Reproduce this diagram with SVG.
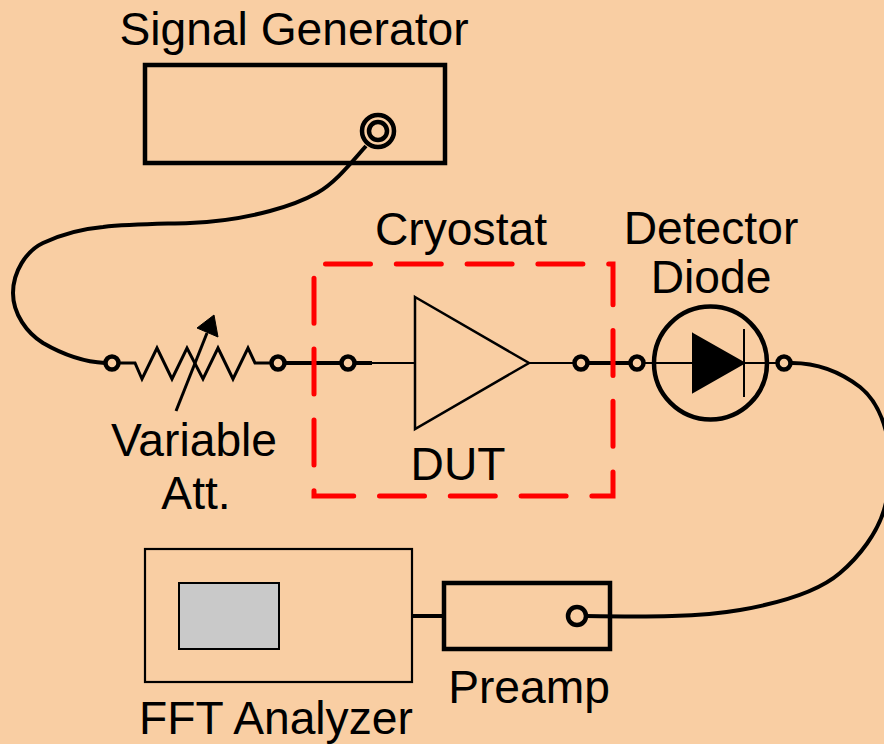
<svg xmlns="http://www.w3.org/2000/svg" width="884" height="744" viewBox="0 0 884 744">
<style>
text{font-family:"Liberation Sans",Arial,sans-serif;font-size:46.200px;fill:#000;text-anchor:middle}
.s{fill:none;stroke:#000;stroke-linejoin:miter}
.t{stroke-width:4.500}
.c{stroke-width:4}
.m{stroke-width:3}
.n{stroke-width:2}
.o{fill:none;stroke:#000;stroke-width:4.500}
</style>
<rect width="884" height="744" fill="#f9cea3"/>
<g id="connectors">
<path class="s c" d="M366 146C350 164 335 183 317 193C299 203 285 207 270 211C240 219 215 222 190 223C160 224 130 224 103 227C80 229 60 235 43 243C26 251 13 272 13 293C13 314 27 333 43 343C62 354 85 362 105 363"/>
<path class="s m" d="M120 363H135L142 379L157 348L172 379L187 348L203 379L218 348L233 379L248 348L255 363H270"/>
<path class="s c" d="M286 363H340M356 363H372"/>
<path class="s n" d="M372 363H415M529 363H573"/>
<path class="s c" d="M589 363H629"/>
<path class="s n" d="M645 363H692M745 363H776"/>
<path class="s c" d="M792 363C820 363 843 374 860 387C875 399 884 420 888 440C892 470 890 490 884 510C877 533 860 556 840 573C818 592 780 603 740 610C700 617 650 617 586 616"/>
<path class="s c" d="M412 616H444"/>
<path class="s m" d="M176 411L207 333"/>
<polygon points="197,328 214,315 218,337" fill="#000" stroke="#000"/>
</g>
<g id="signal-generator">
<rect class="s t" x="145" y="65" width="300" height="98"/>
<circle cx="378" cy="131" r="16" class="o"/>
<circle cx="378" cy="131" r="9" class="o"/>
<text x="294" y="45">Signal Generator</text>
</g>
<g id="variable-att">
<circle cx="112" cy="363" r="6.500" class="o"/>
<circle cx="278" cy="363" r="6.500" class="o"/>
<text x="194" y="456">Variable</text>
<text x="196" y="509">Att.</text>
</g>
<g id="cryostat">
<path d="M325.500 264H613V496H314V264H325.500" fill="none" stroke="#f00" stroke-width="5" stroke-linecap="round" stroke-dasharray="45 25.800"/>
<text x="461" y="245">Cryostat</text>
</g>
<g id="dut">
<circle cx="348" cy="363" r="6.500" class="o"/>
<polygon points="415,297 529,363 415,429" fill="none" stroke="#000" stroke-width="2.500"/>
<circle cx="581" cy="363" r="6.500" class="o"/>
<text x="458" y="480">DUT</text>
</g>
<g id="detector-diode">
<circle cx="637" cy="363" r="6.500" class="o"/>
<circle cx="710.500" cy="363" r="56.500" class="o"/>
<polygon points="693,334 744,363 693,392" fill="#000" stroke="#000" stroke-width="2"/>
<path class="s n" d="M744 329V397"/>
<circle cx="784" cy="363" r="6.500" class="o"/>
<text x="711" y="244">Detector</text>
<text x="711" y="293">Diode</text>
</g>
<g id="fft-analyzer">
<rect x="145" y="549" width="267" height="133" fill="none" stroke="#000" stroke-width="2.200"/>
<rect x="179" y="583" width="100" height="66" fill="#c9c9c9" stroke="#000" stroke-width="2"/>
<text x="276" y="734">FFT Analyzer</text>
</g>
<g id="preamp">
<rect class="s t" x="444" y="583" width="166" height="66"/>
<circle cx="577" cy="616" r="9" class="o"/>
<text x="529" y="703">Preamp</text>
</g>
</svg>
